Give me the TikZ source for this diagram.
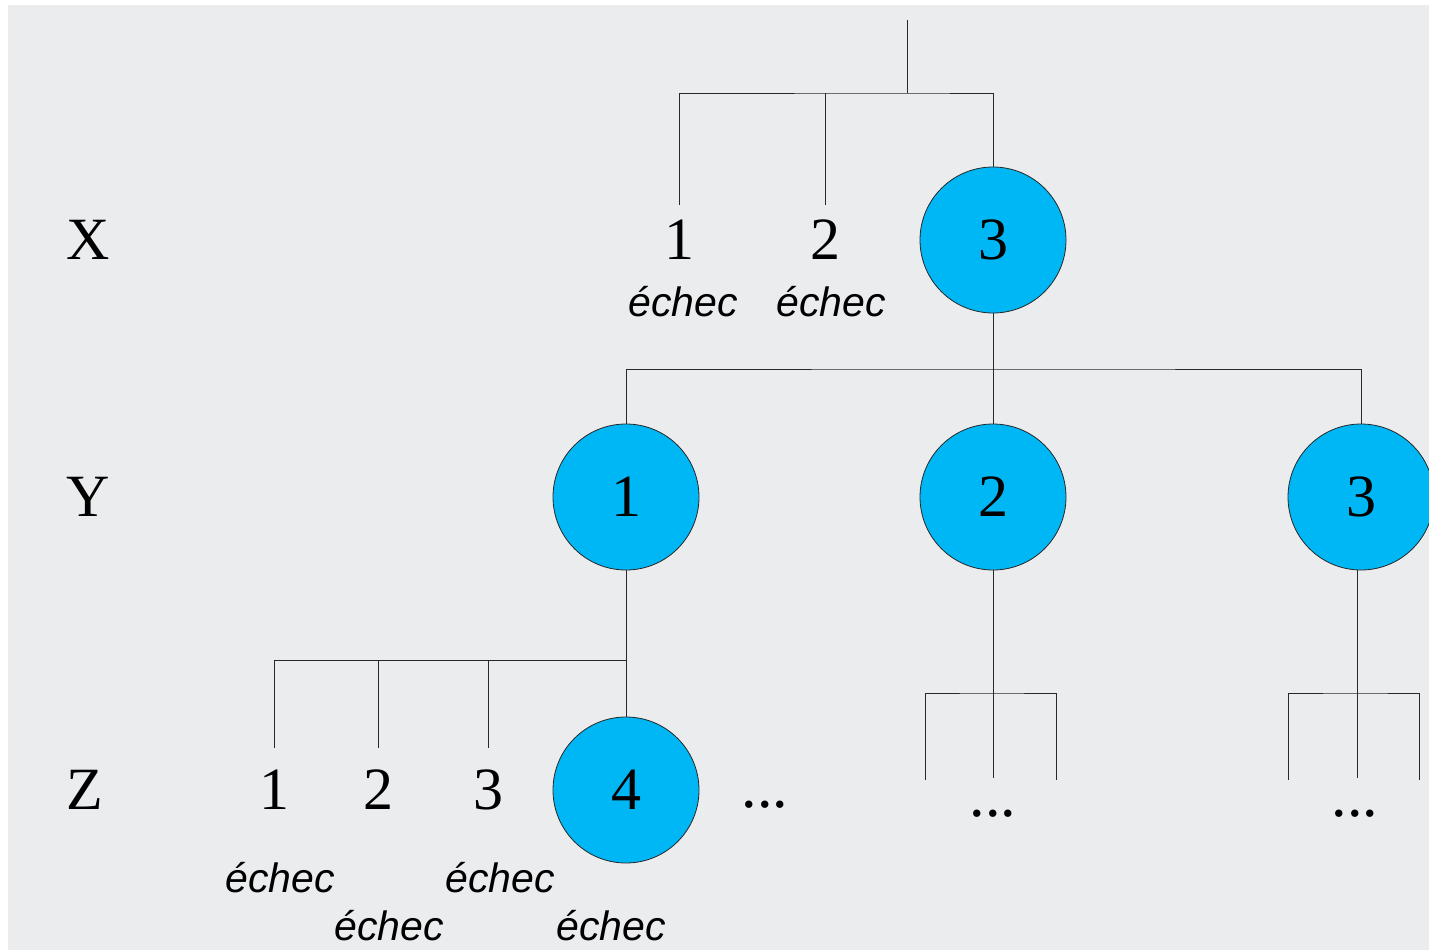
\documentclass[tikz,border=0pt]{standalone}
\usepackage{fontspec}
\setmainfont{Liberation Serif}
\newfontfamily\echecfont{Liberation Sans}
\definecolor{ballblue}{RGB}{0,183,245}
\definecolor{panel}{RGB}{235,236,238}
\definecolor{wire}{RGB}{40,40,40}
\begin{document}
\begin{tikzpicture}[x=1pt,y=-1pt,
  every node/.style={inner sep=0pt, outer sep=0pt},
  ball/.style={circle, draw=black!85, line width=0.8pt, fill=ballblue,
    minimum size=146pt, font=\fontsize{60}{60}\selectfont},
  num/.style={font=\fontsize{60}{60}\selectfont},
  levellabel/.style={font=\fontsize{60}{60}\selectfont},
  fail/.style={font=\echecfont\itshape\fontsize{41}{41}\selectfont},
  dots/.style={anchor=base, font=\fontsize{62}{62}\selectfont},
  link/.style={draw=wire, line width=1pt}]

% page and grey panel
\clip (0,0) rectangle (1429,950);
\fill[white] (0,0) rectangle (1429,950);
\fill[panel] (8,5) rectangle (1429,950);

% level labels
\node[levellabel] (lx) at (88,240) {X};
\node[levellabel] (ly) at (88,497) {Y};
\node[levellabel] (lz) at (85,790) {Z};

% level X
\node[num] (x1) at (679,240) {1};
\node[num] (x2) at (825,240) {2};
\node[ball] (x3) at (993,240) {3};
\node[fail] (fx1) at (683,302) {échec};
\node[fail] (fx2) at (831,302) {échec};

% level Y
\node[ball] (y1) at (626,497) {1};
\node[ball] (y2) at (993,497) {2};
\node[ball] (y3) at (1361,497) {3};

% level Z
\node[num] (z1) at (274,790) {1};
\node[num] (z2) at (378,790) {2};
\node[num] (z3) at (488,790) {3};
\node[ball] (z4) at (626,790) {4};
\node[dots] (zmore) at (765,807) {...};
\node[fail] (fz1) at (280,878) {échec};
\node[fail] (fz2) at (389,926) {échec};
\node[fail] (fz3) at (500,878) {échec};
\node[fail] (fz4) at (611,926) {échec};

\node[dots] (y2more) at (993,816) {...};
\node[dots] (y3more) at (1355,816) {...};

% junctions and open branch ends
\coordinate (root) at (907,20);
\coordinate (jx) at (907,93);
\coordinate (x1tip) at (679,205);
\coordinate (x2tip) at (825,205);
\coordinate (jy) at (993,369);
\coordinate (jz) at (626,660);
\coordinate (z1tip) at (274,748);
\coordinate (z2tip) at (378,748);
\coordinate (z3tip) at (488,748);
\coordinate (j2) at (993,693);
\coordinate (t2a) at (925,780);
\coordinate (t2b) at (993,778);
\coordinate (t2c) at (1056,780);
\coordinate (y3low) at (1357,570);
\coordinate (j3) at (1357,693);
\coordinate (t3a) at (1288,780);
\coordinate (t3b) at (1357,778);
\coordinate (t3c) at (1419,780);

% connectors
\draw[link] (root) -- (jx);
\draw[link] (x1tip) |- (jx) -| (x3);
\draw[link] (x2tip) -- (x2tip |- jx);

\draw[link] (x3) -- (jy);
\draw[link] (y1) |- (jy) -| (y3);
\draw[link] (jy) -- (y2);

\draw[link] (y1) -- (jz);
\draw[link] (z1tip) |- (jz) -- (z4);
\draw[link] (z2tip) -- (z2tip |- jz);
\draw[link] (z3tip) -- (z3tip |- jz);

\draw[link] (y2) -- (j2);
\draw[link] (t2a) |- (j2) -| (t2c);
\draw[link] (j2) -- (t2b);

\draw[link] (y3low) -- (j3);
\draw[link] (t3a) |- (j3) -| (t3c);
\draw[link] (j3) -- (t3b);
\end{tikzpicture}
\end{document}
